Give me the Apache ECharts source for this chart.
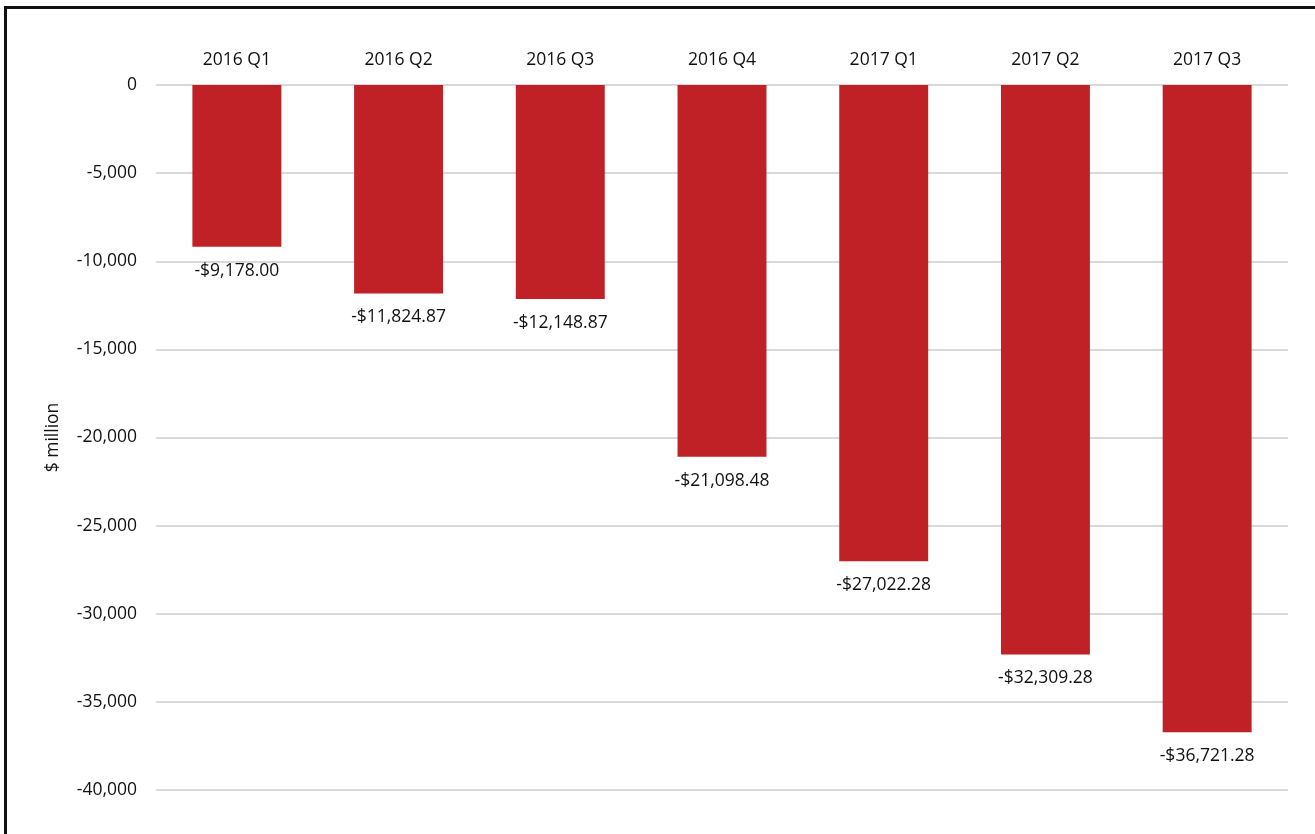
<!DOCTYPE html>
<html><head><meta charset="utf-8">
<script src="https://cdn.jsdelivr.net/npm/echarts@6/dist/echarts.min.js"></script>
<style>
html,body{margin:0;padding:0;background:#fff;overflow:hidden;}
#frame{position:absolute;left:4px;top:6px;width:1400px;height:900px;border-left:3px solid #111;border-top:3px solid #111;box-sizing:border-box;}
#c{position:absolute;left:0;top:0;width:1315px;height:834px;}
</style></head>
<body><div id="frame"></div><div id="c"></div>
<script>
const categories = ['2016 Q1','2016 Q2','2016 Q3','2016 Q4','2017 Q1','2017 Q2','2017 Q3'];
const values = [-9178.00, -11824.87, -12148.87, -21098.48, -27022.28, -32309.28, -36721.28];
const yName = '$ million';
const chart = echarts.init(document.getElementById('c'));
const fnt = '"Open Sans", sans-serif';
const fs = 17.5;
chart.setOption({
  animation:false,
  grid:{left:156,right:27,top:85,bottom:44},
  xAxis:{type:'category',data:categories,position:'top',
    axisLine:{show:false},axisTick:{show:false},
    axisLabel:{color:'#111',fontSize:fs,fontFamily:fnt,margin:16}},
  yAxis:{type:'value',min:-40000,max:0,interval:5000,
    name:yName,nameLocation:'middle',nameGap:94,nameRotate:90,
    nameTextStyle:{color:'#111',fontSize:fs,fontFamily:fnt},
    axisLine:{show:false},axisTick:{show:false},
    axisLabel:{color:'#111',fontSize:fs,fontFamily:fnt,margin:19,
      formatter:v=>v.toLocaleString('en-US')},
    splitLine:{lineStyle:{color:'#d9d9d9',width:2}}},
  series:[{type:'bar',data:values,barWidth:'55%',
    itemStyle:{color:'#c02127'},
    label:{show:true,position:'bottom',distance:15,color:'#111',fontSize:fs,fontFamily:fnt,
      formatter:p=>'-$'+Math.abs(p.value).toLocaleString('en-US',{minimumFractionDigits:2,maximumFractionDigits:2})}}]
});
</script></body></html>
